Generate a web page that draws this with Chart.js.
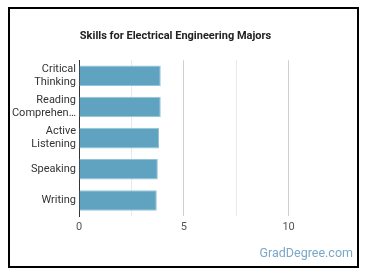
<!DOCTYPE html>
<html lang="en">
<head>
    <meta charset="UTF-8">
    <title>Skills for Electrical Engineering Majors</title>
    <script src="https://cdn.jsdelivr.net/npm/chart.js"></script>
    <style>
        body {
            margin: 0;
            background: #fff;
            font-family: Roboto, Arial, sans-serif;
        }
        .frame {
            position: absolute;
            left: 8px;
            top: 7px;
            width: 347px;
            height: 257px;
            border: 2px solid #000;
            background: #fff;
        }
        .watermark {
            position: absolute;
            right: 4px;
            bottom: 6px;
            font-size: 12.5px;
            color: #79a8c8;
        }
    </style>
</head>
<body>
    <div class="frame">
        <canvas id="skillsChart" width="347" height="257"></canvas>
        <div class="watermark">GradDegree.com</div>
    </div>

    <script>
        const skills = [['Critical', 'Thinking'], ['Reading', 'Comprehen…'], ['Active', 'Listening'], 'Speaking', 'Writing'];
        const scores = [3.9, 3.9, 3.82, 3.76, 3.71];
        const xTicksShown = [0, 5, 10];

        const ctx = document.getElementById('skillsChart').getContext('2d');

        new Chart(ctx, {
            type: 'bar',
            data: {
                labels: skills,
                datasets: [{
                    data: scores,
                    backgroundColor: '#5fa3c1',
                    borderColor: '#92c4dc',
                    borderWidth: 1,
                    categoryPercentage: 1,
                    barPercentage: 0.66
                }]
            },
            options: {
                indexAxis: 'y',
                responsive: false,
                animation: false,
                layout: { padding: { left: 0, right: 16, top: 0, bottom: 0 } },
                plugins: {
                    legend: { display: false },
                    tooltip: { enabled: false },
                    title: {
                        display: true,
                        text: 'Skills for Electrical Engineering Majors',
                        color: '#222',
                        font: { family: 'Roboto', size: 11, weight: 'bold' },
                        padding: { top: 21, bottom: 17 }
                    }
                },
                scales: {
                    x: {
                        min: 0,
                        max: 12.5,
                        afterFit: s => { s.height = 50; },
                        ticks: {
                            stepSize: 2.5,
                            padding: 5,
                            color: '#555',
                            font: { family: 'Roboto', size: 11 },
                            callback: v => xTicksShown.includes(v) ? v : ''
                        },
                        grid: {
                            drawTicks: false,
                            color: c => {
                                const v = c.tick ? c.tick.value : 0;
                                if (v === 0 || v === 12.5) return 'rgba(0,0,0,0)';
                                return v % 5 === 0 ? '#cfcfcf' : '#e9e9e9';
                            }
                        },
                        border: { display: false }
                    },
                    y: {
                        afterFit: s => { s.width = 69; },
                        ticks: {
                            padding: 3,
                            color: '#333',
                            font: { family: 'Roboto', size: 11 }
                        },
                        grid: { display: false, drawTicks: false },
                        border: { display: true, color: '#333', width: 1 }
                    }
                }
            }
        });
    </script>
</body>
</html>
